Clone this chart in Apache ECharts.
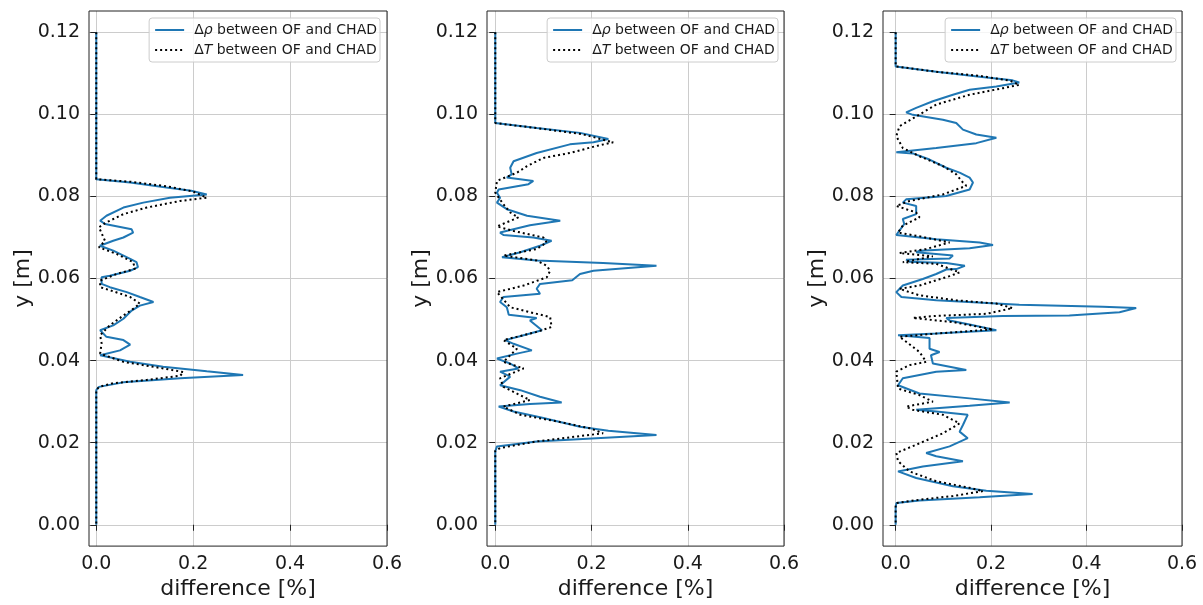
<!DOCTYPE html>
<html><head><meta charset="utf-8">
<script src="https://cdn.jsdelivr.net/npm/echarts@6/dist/echarts.min.js"></script>
<style>html,body{margin:0;padding:0;background:#fff}#c{width:1203px;height:605px}</style>
</head><body><div id="c"></div>
<script>
// ---- data ----
const xTicks = [0, 0.2, 0.4, 0.6];
const yTicks = [0, 0.02, 0.04, 0.06, 0.08, 0.10, 0.12];
const seriesNames = ['Δρ between OF and CHAD', 'ΔT between OF and CHAD'];
const xTitle = 'difference [%]';
const yTitle = 'y [m]';

// [difference %, y m] pairs, top to bottom
const p1Rho = [[0,0.12],[0,0.0842],[0.07,0.0834],[0.145,0.0822],[0.196,0.0814],[0.228,0.0805],[0.152,0.0797],[0.097,0.0785],[0.056,0.0773],[0.021,0.0753],[0.008,0.0741],[0.018,0.0733],[0.073,0.072],[0.076,0.0712],[0.056,0.070],[0.035,0.0692],[0.0075,0.068],[0.035,0.0668],[0.07,0.0648],[0.083,0.064],[0.086,0.0628],[0.07,0.0619],[0.028,0.0607],[0.011,0.0603],[0.011,0.0587],[0.028,0.0579],[0.063,0.0567],[0.09,0.0555],[0.118,0.0543],[0.09,0.0534],[0.073,0.0522],[0.056,0.0502],[0.035,0.0486],[0.008,0.0474],[0.021,0.0458],[0.056,0.045],[0.07,0.0439],[0.049,0.0425],[0.008,0.0413],[0.07,0.0397],[0.138,0.0385],[0.228,0.0374],[0.303,0.0365],[0.173,0.0357],[0.056,0.0347],[0.0055,0.0336],[0,0.0328],[0,0]];
const p1T = [[0,0.12],[0,0.0842],[0.07,0.0836],[0.145,0.0825],[0.2,0.0812],[0.228,0.0797],[0.173,0.0789],[0.104,0.0773],[0.056,0.0757],[0.021,0.0737],[0.0055,0.0725],[0.018,0.0692],[0.0055,0.0676],[0.042,0.066],[0.076,0.064],[0.08,0.0624],[0.042,0.0611],[0.008,0.0595],[0.008,0.0579],[0.035,0.0569],[0.07,0.0555],[0.09,0.0539],[0.076,0.0526],[0.056,0.051],[0.028,0.0486],[0.008,0.0462],[0.011,0.0442],[0.008,0.0417],[0.056,0.0397],[0.138,0.0381],[0.18,0.0372],[0.173,0.0363],[0.104,0.0353],[0.035,0.0345],[0.006,0.0336],[0,0.0328],[0,0]];
const p2Rho = [[0,0.12],[0,0.0979],[0.003,0.0975],[0.086,0.0967],[0.176,0.0955],[0.235,0.094],[0.204,0.0932],[0.155,0.0927],[0.086,0.0906],[0.038,0.0886],[0.031,0.087],[0.034,0.0854],[0.024,0.0846],[0.079,0.0838],[0.069,0.083],[0.007,0.0817],[0.0035,0.0809],[0.010,0.0797],[0.0035,0.0785],[0.024,0.0769],[0.066,0.0753],[0.135,0.0741],[0.072,0.073],[0.010,0.0712],[0.017,0.0706],[0.079,0.07],[0.117,0.0692],[0.093,0.068],[0.052,0.0664],[0.014,0.0652],[0.086,0.0644],[0.224,0.0638],[0.335,0.0631],[0.204,0.0619],[0.176,0.0611],[0.16,0.0596],[0.093,0.0587],[0.086,0.0575],[0.093,0.0563],[0.017,0.0555],[0.010,0.0543],[0.024,0.053],[0.028,0.0512],[0.086,0.0504],[0.072,0.0498],[0.097,0.0474],[0.059,0.0462],[0.021,0.045],[0.038,0.0441],[0.076,0.0425],[0.045,0.0417],[0.0035,0.0405],[0.031,0.0393],[0.048,0.0381],[0.010,0.0373],[0.031,0.0361],[0.010,0.034],[0.052,0.0328],[0.093,0.0312],[0.138,0.0298],[0.072,0.0294],[0.007,0.0288],[0.038,0.0276],[0.1,0.026],[0.176,0.0239],[0.235,0.0229],[0.335,0.0219],[0.21,0.0211],[0.086,0.0203],[0.0035,0.0191],[0,0.0179],[0,0]];
const p2T = [[0,0.12],[0,0.0979],[0.003,0.0975],[0.09,0.0966],[0.18,0.0952],[0.245,0.0932],[0.21,0.0923],[0.155,0.0906],[0.1,0.0894],[0.066,0.0874],[0.045,0.0858],[0.0035,0.0838],[0,0.0809],[0.017,0.0781],[0.031,0.0761],[0.048,0.0749],[0.0035,0.0727],[0.038,0.0716],[0.1,0.07],[0.107,0.0688],[0.086,0.0672],[0.017,0.0656],[0.086,0.0644],[0.107,0.0631],[0.114,0.0619],[0.107,0.0603],[0.059,0.0583],[0.0035,0.0567],[0.031,0.053],[0.114,0.0506],[0.117,0.0482],[0.086,0.047],[0.017,0.045],[0.045,0.0429],[0.017,0.0397],[0.059,0.0381],[0.010,0.0357],[0.017,0.0336],[0.072,0.0304],[0.017,0.0288],[0.052,0.0268],[0.128,0.0252],[0.197,0.0235],[0.224,0.0223],[0.086,0.0203],[0.010,0.0187],[0,0.018],[0,0]];
const p3Rho = [[0,0.12],[0,0.1117],[0.002,0.1113],[0.085,0.1104],[0.176,0.1092],[0.245,0.1083],[0.259,0.1078],[0.211,0.1068],[0.155,0.106],[0.12,0.1048],[0.078,0.1032],[0.043,0.1016],[0.022,0.1005],[0.036,0.0999],[0.099,0.0987],[0.127,0.0979],[0.141,0.0963],[0.169,0.0951],[0.211,0.0943],[0.169,0.093],[0.085,0.0918],[0.0014,0.0908],[0.036,0.0905],[0.071,0.089],[0.106,0.087],[0.134,0.0858],[0.155,0.0846],[0.162,0.0834],[0.155,0.0817],[0.106,0.0801],[0.022,0.0793],[0.015,0.0785],[0.043,0.0777],[0.043,0.0757],[0.015,0.0745],[0.018,0.0733],[0.005,0.0712],[0.0014,0.0706],[0.085,0.0696],[0.176,0.0688],[0.204,0.0682],[0.155,0.0674],[0.05,0.0668],[0.043,0.0664],[0.12,0.0656],[0.113,0.0649],[0.022,0.0646],[0.029,0.0641],[0.106,0.0638],[0.145,0.0631],[0.127,0.0623],[0.106,0.0622],[0.085,0.0611],[0.057,0.0599],[0.015,0.0583],[0.0014,0.0567],[0.012,0.0555],[0.085,0.0547],[0.259,0.0536],[0.434,0.0531],[0.504,0.0528],[0.469,0.0518],[0.364,0.051],[0.224,0.0509],[0.106,0.0504],[0.113,0.0498],[0.155,0.0488],[0.211,0.0474],[0.085,0.0466],[0.005,0.0462],[0.071,0.0455],[0.071,0.0437],[0.071,0.0429],[0.092,0.0421],[0.074,0.0413],[0.078,0.0393],[0.148,0.0377],[0.085,0.0373],[0.015,0.0357],[0.005,0.034],[0.05,0.032],[0.155,0.0308],[0.239,0.0298],[0.155,0.029],[0.043,0.028],[0.085,0.0276],[0.151,0.0268],[0.141,0.0243],[0.134,0.0227],[0.151,0.0211],[0.113,0.0191],[0.064,0.0175],[0.085,0.0167],[0.141,0.0155],[0.057,0.0142],[0.005,0.013],[0.043,0.0114],[0.12,0.0094],[0.19,0.0083],[0.287,0.0075],[0.176,0.0067],[0.05,0.0059],[0.0014,0.0053],[0,0.0041],[0,0]];
const p3T = [[0,0.12],[0,0.1117],[0.002,0.1113],[0.085,0.1104],[0.176,0.1094],[0.24,0.1082],[0.259,0.1072],[0.225,0.1064],[0.155,0.1048],[0.085,0.1024],[0.043,0.0995],[0.008,0.0971],[0.0014,0.0947],[0.015,0.0918],[0.05,0.0898],[0.099,0.0874],[0.127,0.0854],[0.141,0.0834],[0.148,0.0826],[0.099,0.0805],[0.029,0.0789],[0.0014,0.0777],[0.043,0.0761],[0.05,0.0749],[0.015,0.0729],[0.005,0.0712],[0.05,0.0703],[0.113,0.0688],[0.064,0.0672],[0.008,0.0662],[0.078,0.0654],[0.015,0.064],[0.085,0.0636],[0.134,0.0615],[0.113,0.0606],[0.05,0.0583],[0.008,0.0575],[0.05,0.0559],[0.127,0.0547],[0.211,0.0539],[0.245,0.0528],[0.19,0.0514],[0.085,0.0509],[0.036,0.0504],[0.12,0.0494],[0.204,0.0476],[0.085,0.0466],[0.008,0.0458],[0.022,0.0446],[0.05,0.0421],[0.064,0.0397],[0.029,0.0389],[0.0014,0.0373],[0.005,0.0332],[0.05,0.0316],[0.078,0.03],[0.022,0.0288],[0.036,0.028],[0.099,0.0268],[0.134,0.0247],[0.099,0.0223],[0.043,0.0195],[0.0014,0.0175],[0.005,0.0155],[0.029,0.013],[0.085,0.0106],[0.155,0.009],[0.183,0.0082],[0.12,0.007],[0.05,0.0061],[0.0014,0.0053],[0,0.0045],[0,0]];

// ---- layout ----
const FONT = 'DejaVu Sans';
const INK = '#1a1a1a';
const panels = [
  {left: 89,  width: 298, xmin: -0.015, rho: p1Rho, T: p1T, legendRight: 823},
  {left: 487, width: 297, xmin: -0.0172, rho: p2Rho, T: p2T, legendRight: 425},
  {left: 883, width: 299, xmin: -0.0265, rho: p3Rho, T: p3T, legendRight: 27}
];
const GTOP = 11, GH = 537;

const grid = [], xAxis = [], yAxis = [], series = [], legend = [];
panels.forEach((p, i) => {
  grid.push({left: p.left, top: GTOP, width: p.width, height: GH, show: true,
    borderColor: '#222', borderWidth: 1, backgroundColor: 'transparent', z: 10});
  xAxis.push({gridIndex: i, type: 'value', min: p.xmin, max: 0.6,
    axisLine: {show: false},
    axisTick: {show: true, inside: false, length: 6, customValues: xTicks, lineStyle: {color: '#222', width: 1}},
    axisLabel: {customValues: xTicks, formatter: v => v.toFixed(1), fontSize: 19, color: INK, fontFamily: FONT, margin: 8},
    splitLine: {show: true, lineStyle: {color: '#cccccc', width: 1}},
    name: xTitle, nameLocation: 'middle', nameGap: 31,
    nameTextStyle: {fontSize: 22, color: INK, fontFamily: FONT}
  });
  yAxis.push({gridIndex: i, type: 'value', min: -0.0052, max: 0.1252,
    axisLine: {show: false},
    axisTick: {show: true, inside: false, length: 6, customValues: yTicks, lineStyle: {color: '#222', width: 1}},
    axisLabel: {customValues: yTicks, formatter: v => v.toFixed(2), fontSize: 19, color: INK, fontFamily: FONT, margin: 9},
    splitLine: {show: true, lineStyle: {color: '#cccccc', width: 1}},
    name: yTitle, nameLocation: 'middle', nameGap: 49, nameRotate: 90,
    nameTextStyle: {fontSize: 22, color: INK, fontFamily: FONT}
  });
  series.push({type: 'line', name: seriesNames[0], xAxisIndex: i, yAxisIndex: i, data: p.rho,
    symbol: 'none', lineStyle: {color: '#1f77b4', width: 2}, itemStyle: {color: '#1f77b4'}, z: 2});
  series.push({type: 'line', name: seriesNames[1], xAxisIndex: i, yAxisIndex: i, data: p.T,
    symbol: 'none', lineStyle: {color: '#000000', width: 2, type: [2, 3], cap: 'butt'}, itemStyle: {color: '#000000'}, z: 3});
  legend.push({right: p.legendRight, top: 18, orient: 'vertical', data: seriesNames,
    itemWidth: 29, itemHeight: 14, itemGap: 6, padding: [5, 3, 5, 5],
    backgroundColor: 'rgba(255,255,255,0.8)', borderColor: '#cccccc', borderWidth: 1, borderRadius: 3,
    selectedMode: false, z: 20,
    itemStyle: {opacity: 0},
    formatter: n => n.replace('ρ', '{i|ρ}').replace('ΔT', 'Δ{i|T}'),
    textStyle: {fontSize: 14, color: INK, fontFamily: FONT, padding: [0, 0, 0, 5],
      rich: {i: {fontStyle: 'italic', fontSize: 14, color: INK, fontFamily: FONT}}}
  });
});

const chart = echarts.init(document.getElementById('c'), null, {renderer: 'canvas'});
chart.setOption({animation: false, backgroundColor: '#ffffff', grid, xAxis, yAxis, series, legend});
</script>
</body></html>
